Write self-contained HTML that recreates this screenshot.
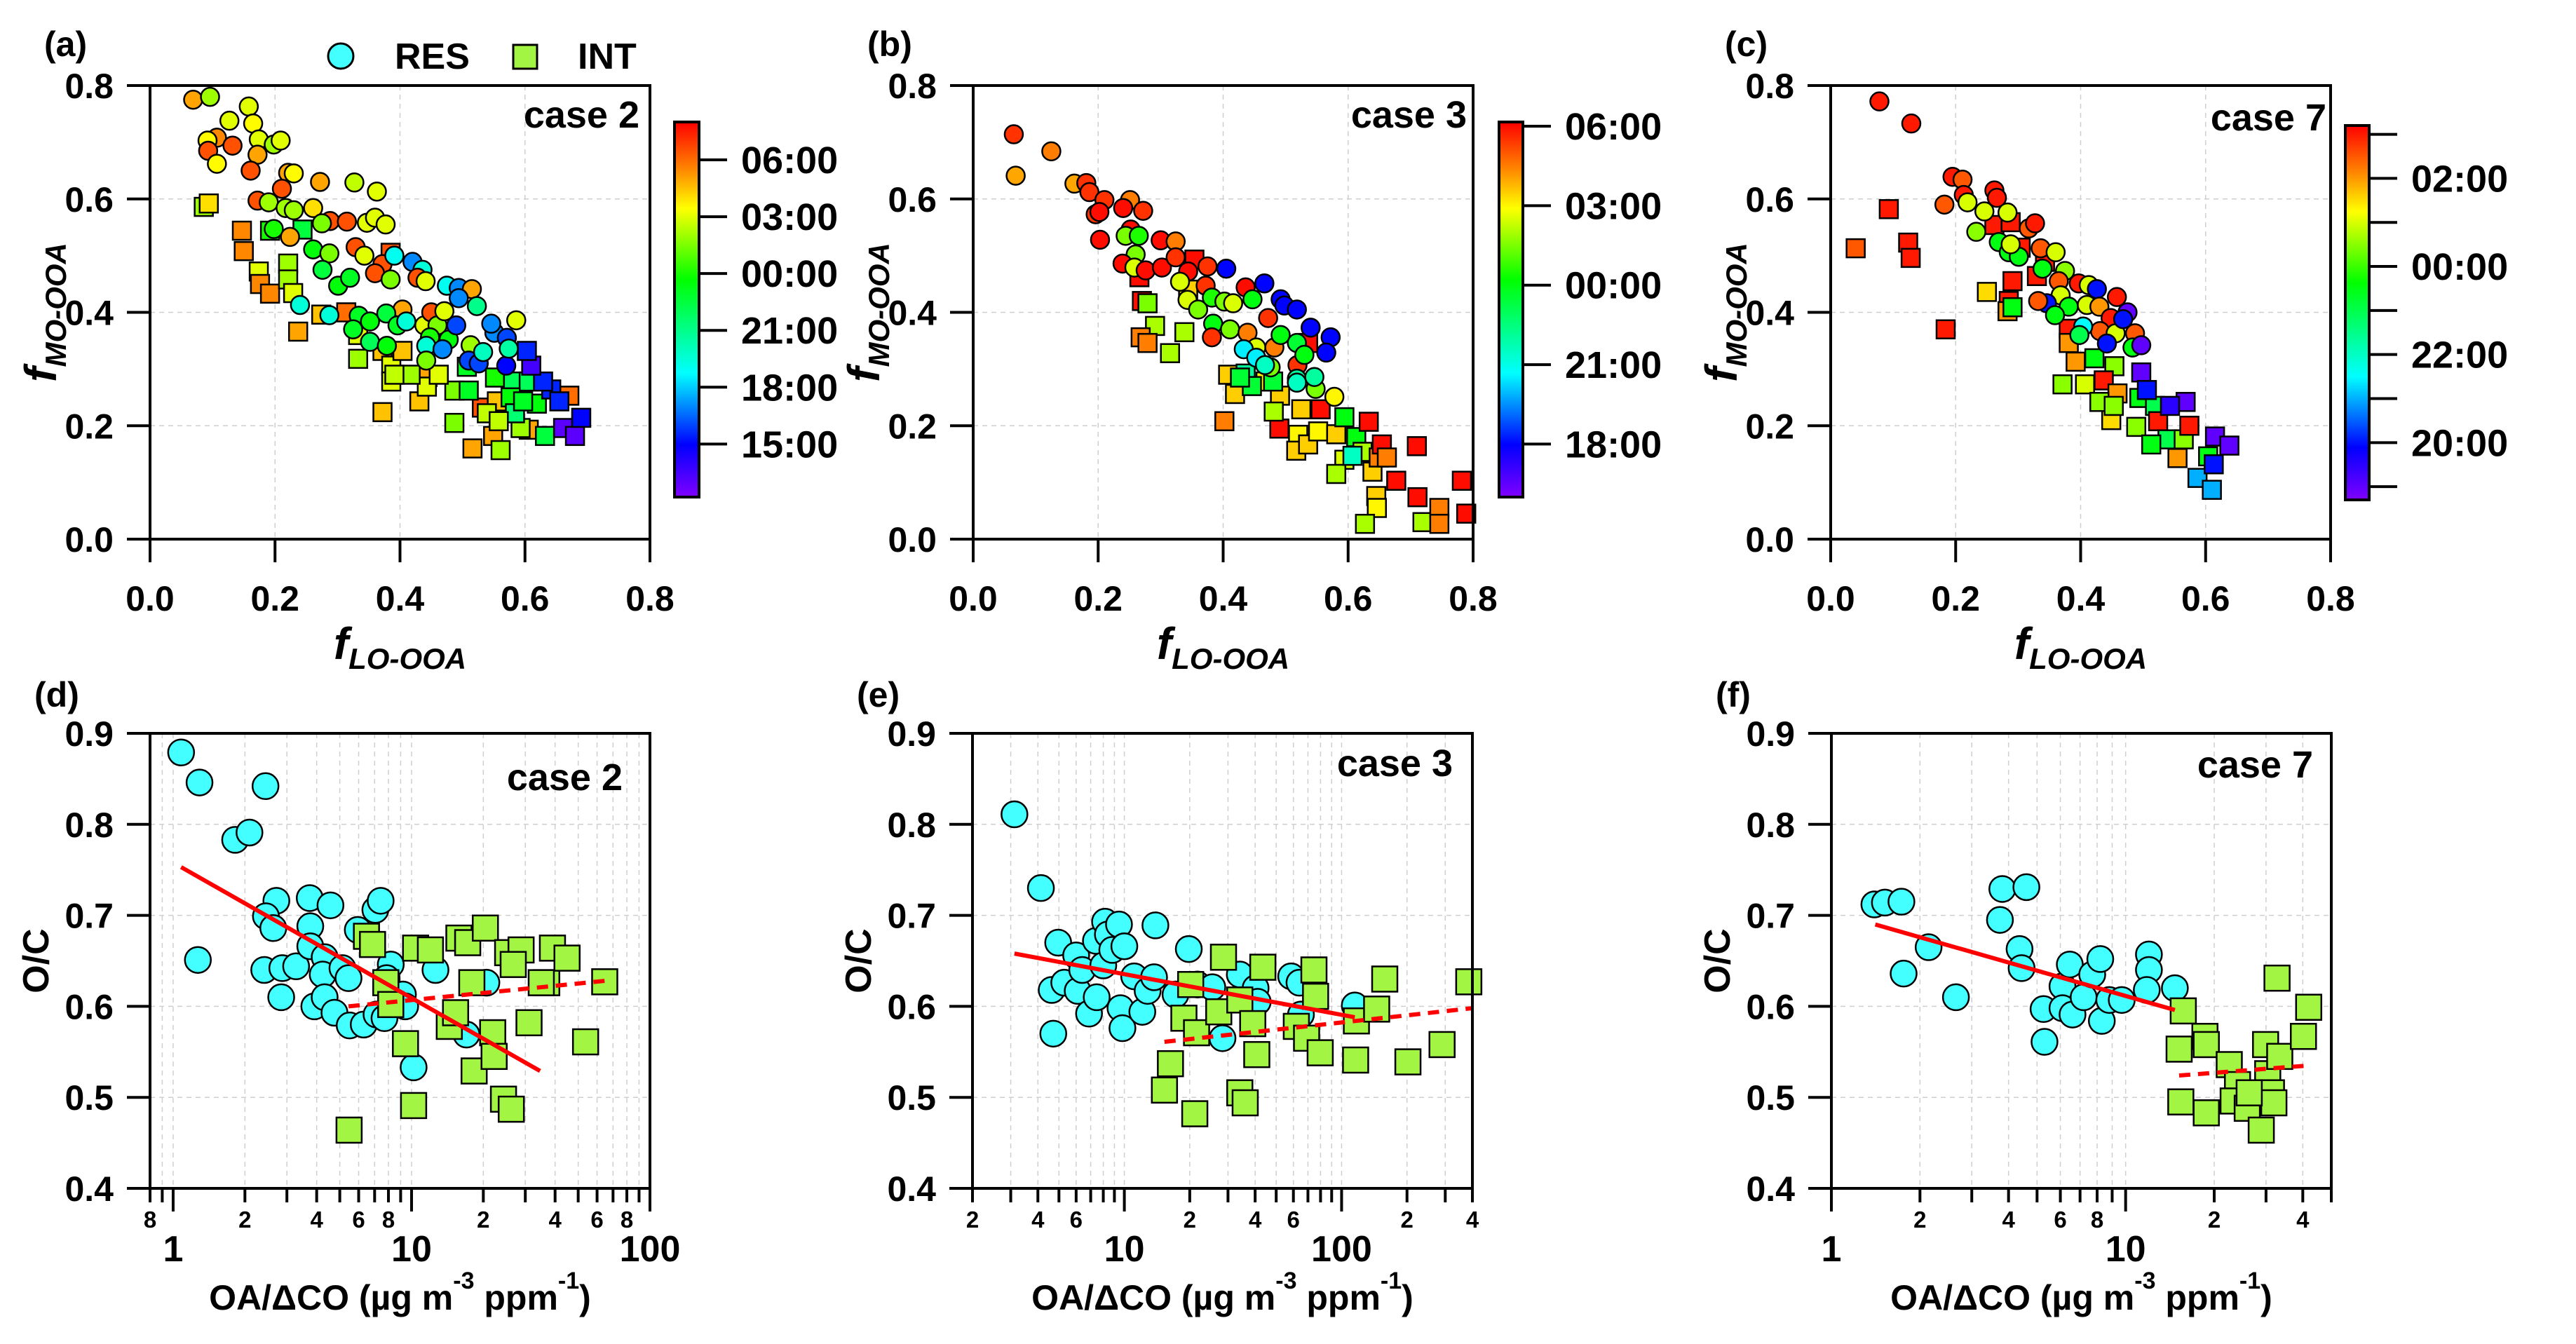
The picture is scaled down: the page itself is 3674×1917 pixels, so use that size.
<!DOCTYPE html>
<html><head><meta charset="utf-8">
<style>
html,body{margin:0;padding:0;background:#fff;}
svg{display:block;font-family:"Liberation Sans",Arial,sans-serif;font-weight:bold;}
</style></head>
<body>
<svg id="fig" xmlns="http://www.w3.org/2000/svg" width="3674" height="1917" viewBox="0 0 3674 1917">
<defs>
<linearGradient id="rainbow" x1="0" y1="1" x2="0" y2="0">
<stop offset="0" stop-color="#8000ff"/>
<stop offset="0.14" stop-color="#0000ff"/>
<stop offset="0.33" stop-color="#00ffff"/>
<stop offset="0.58" stop-color="#00ff00"/>
<stop offset="0.77" stop-color="#ffff00"/>
<stop offset="0.88" stop-color="#ff8000"/>
<stop offset="1" stop-color="#ff0000"/>
</linearGradient>
</defs>
</svg>
<script>
// ---------- DATA ----------
const aResX=[.069,.096,.158,.127,.165,.107,.092,.093,.132,.174,.198,.209,.172,.107,.161,.221,.23,.272,.327,.363,.172,.211,.19,.217,.23,.261,.288,.315,.347,.36,.377,.275,.198,.224,.261,.287,.276,.301,.32,.329,.343,.372,.36,.385,.391,.42,.436,.475,.494,.515,.523,.404,.428,.441,.334,.352,.325,.378,.396,.41,.439,.45,.46,.471,.448,.478,.352,.379,.442,.442,.468,.49,.513,.51,.526,.533,.551,.546,.571,.57,.574,.586,.24,.287,.494];
const aResY=[.775,.78,.763,.738,.733,.708,.703,.685,.694,.705,.696,.703,.678,.662,.65,.646,.645,.63,.629,.613,.597,.618,.594,.584,.58,.584,.561,.56,.558,.567,.555,.557,.547,.533,.511,.504,.475,.447,.461,.515,.5,.485,.469,.458,.5,.489,.475,.447,.443,.441,.411,.405,.461,.455,.394,.384,.37,.398,.377,.384,.377,.40,.377,.402,.356,.352,.348,.341,.341,.315,.335,.377,.342,.315,.31,.33,.364,.38,.355,.306,.336,.386,.413,.395,.425];
const aResT=[29,26,27,27,27.5,29.5,27.5,30.5,30.5,27,26,27,29,27.5,30.5,29,27.5,29,26.5,27,30.5,30.5,26,26,26,28,30.5,30.5,27,27,27,25.5,24,29,23.5,25.5,22.5,23.5,23,30.5,27,30.5,30.5,25.5,19,17,19.5,19,17,29,21,29,30.5,27,23,23.5,23,22.5,23,19.5,27,30.5,25.5,27,24,23.5,22,23.5,19.5,25.5,17,16,26,16,16,20,17,17,16,15,20.5,27,19.5,19.5,17];
const aIntX=[.086,.094,.147,.15,.174,.176,.192,.192,.221,.221,.244,.229,.237,.274,.314,.333,.333,.372,.386,.386,.404,.372,.431,.444,.443,.385,.487,.487,.516,.531,.549,.561,.555,.552,.581,.606,.606,.593,.632,.619,.671,.661,.68,.69,.642,.629,.61,.51,.507,.577,.539,.584,.462,.417,.597,.655,.558,.603,.391];
const aIntY=[.586,.592,.544,.508,.472,.45,.433,.544,.486,.458,.546,.434,.366,.396,.400,.36,.318,.332,.306,.278,.332,.224,.243,.286,.269,.505,.262,.205,.16,.232,.182,.157,.243,.285,.278,.278,.193,.196,.182,.239,.253,.196,.182,.214,.264,.278,.306,.262,.304,.250,.222,.222,.290,.290,.243,.243,.208,.332,.290];
const aIntT=[26,28,29.5,29.5,27,29.5,29.5,24,26,26,22.5,27,29,28.5,30,27,26,28.5,27,27,28.5,28.5,28.5,29,27,30.5,25.5,25.5,29,30.5,29,26,28.5,24,22,22,29,26,22.5,23.5,30,13,13,15,15.5,15.5,13.5,23,23,23.5,26.5,21.5,27,26,23,15.5,26.5,15.5,26.5];
const bResX=[.065,.125,.068,.162,.181,.186,.21,.251,.272,.24,.196,.202,.252,.203,.244,.265,.3,.324,.26,.239,.258,.276,.302,.324,.344,.375,.405,.331,.343,.36,.372,.382,.402,.416,.436,.447,.466,.492,.498,.518,.54,.572,.565,.384,.382,.411,.439,.453,.433,.453,.472,.482,.476,.492,.518,.519,.518,.548,.578,.53,.518,.467,.546];
const bResY=[.714,.684,.641,.627,.628,.612,.598,.598,.579,.584,.573,.577,.546,.528,.535,.535,.527,.525,.502,.486,.479,.474,.479,.497,.472,.481,.477,.454,.422,.405,.447,.426,.419,.416,.444,.423,.451,.423,.412,.405,.373,.356,.329,.38,.356,.37,.364,.338,.335,.32,.39,.338,.303,.36,.346,.307,.283,.265,.251,.325,.276,.307,.286];
const bResT=[29.5,28.5,28,28,29.5,29.5,29.5,28.5,29.5,30,29.5,30,30,30,25.5,24.5,30,28.5,25.5,30,26.5,30,30,29.5,30,29.5,18,26.5,26.5,25.5,29.5,24.5,25.5,26.5,30,24,18,18,18,18,18,18,18,24,29.5,25.5,28.5,26.5,20.5,20.5,29.5,28.5,25.5,24,23.5,29.5,22,25.5,27,24,21.5,21.5,22];
const bIntX=[.27,.279,.291,.268,.279,.315,.338,.408,.419,.402,.436,.468,.491,.48,.49,.481,.525,.556,.52,.517,.536,.552,.581,.594,.613,.633,.594,.623,.639,.649,.654,.662,.677,.645,.646,.627,.71,.711,.719,.746,.746,.782,.789,.581,.607,.446,.427,.344,.354,.266,.536];
const bIntY=[.42,.416,.376,.356,.346,.328,.365,.29,.256,.208,.292,.278,.253,.278,.195,.225,.229,.229,.184,.156,.167,.19,.185,.215,.18,.207,.14,.154,.119,.144,.167,.144,.103,.076,.055,.027,.164,.074,.03,.055,.027,.103,.045,.115,.147,.27,.285,.44,.493,.462,.346];
const bIntT=[30,25.5,26,28.5,28.5,26,26,27.5,27.5,28.5,22,27,27.5,23.5,30,26,27.5,30,27,27.5,27.5,27,27.5,24,24,30,26.5,26,27.5,28.5,30,28.5,30,27.5,27,26,30,30,26,28.5,28.5,30,30,26,21.5,23.5,23.5,27.5,30,30,30];
const cResX=[.078,.129,.195,.211,.213,.182,.219,.246,.262,.266,.283,.233,.269,.285,.301,.317,.327,.336,.36,.375,.365,.397,.413,.426,.458,.368,.346,.332,.381,.41,.43,.475,.448,.431,.456,.487,.483,.497,.404,.442,.468,.359,.398,.288,.339];
const cResY=[.772,.733,.639,.634,.607,.59,.594,.578,.615,.602,.576,.542,.524,.506,.498,.548,.557,.513,.506,.473,.455,.451,.448,.441,.427,.43,.416,.42,.41,.413,.41,.4,.39,.367,.363,.363,.338,.342,.375,.345,.388,.395,.36,.52,.477];
const cResT=[27,27,27,26.5,27,26.5,25,25,27,27,25,24.5,23.5,23.5,23.5,26.5,27,26.5,25,24.5,26.5,27,25,20,27,25,20,26.5,23.5,25,26,19,27,26.5,25,26.5,23.5,19,21.5,20,20,23.5,23,25,23.5];
const cIntX=[.04,.093,.124,.128,.184,.25,.285,.283,.291,.262,.288,.304,.291,.343,.33,.381,.381,.392,.422,.454,.371,.407,.437,.459,.449,.497,.494,.489,.519,.524,.539,.555,.565,.574,.587,.61,.604,.615,.638,.568,.543,.613,.506,.43,.453,.513];
const cIntY=[.513,.582,.523,.496,.37,.436,.42,.402,.409,.554,.559,.514,.455,.489,.464,.371,.346,.313,.319,.305,.273,.273,.28,.257,.21,.294,.249,.198,.235,.208,.176,.143,.176,.2,.108,.087,.146,.181,.165,.242,.235,.132,.263,.242,.235,.167];
const cIntT=[26.5,27,27,27,27,25.5,27,26,23.5,27,27,27,27,27,27,27,26,26,23.5,24.5,24.5,25,27,26,25.5,19,23.5,24.5,23,27,23,26,24.5,27,21,21,23.5,19,19,19,19.5,20,20,24.5,24.5,23.5];
const dResX=[1.08,1.29,2.44,1.82,2.09,1.27,2.71,2.45,2.63,3.74,4.57,3.76,2.41,2.87,3.28,2.84,3.76,4.32,4.24,5.13,5.44,3.91,4.32,4.75,5.5,6.3,5.95,7.05,7.42,8.18,7.86,7.13,7.7,9.2,9.4,10.2,12.6,17.0,20.6];
const dResY=[.879,.846,.842,.783,.791,.651,.716,.699,.686,.719,.711,.688,.640,.642,.644,.610,.666,.654,.635,.642,.631,.600,.610,.593,.579,.580,.684,.706,.716,.646,.631,.591,.587,.613,.600,.533,.640,.569,.626];
const dIntX=[5.47,6.47,6.86,7.8,8.18,9.43,10.2,10.4,12.0,14.4,15.8,17.2,17.9,15.3,20.4,18.3,21.9,22.2,24.3,26.2,25.3,28.8,31.1,36.9,39.0,44.9,35.0,53.7,64.6,26.7];
const dIntY=[.464,.677,.668,.626,.602,.559,.491,.664,.662,.578,.675,.670,.626,.593,.686,.529,.571,.545,.498,.487,.659,.662,.582,.626,.664,.653,.626,.561,.627,.646];
const dFitResX=[1.08,34.6], dFitResY=[.753,.529];
const dFitIntX=[5.44,64.6], dFitIntY=[.600,.628];
const eResX=[3.12,4.13,4.96,4.71,4.63,5.29,6.0,6.1,6.4,6.88,7.4,7.46,8.15,8.4,8.0,8.8,9.45,10,9.6,9.8,11.1,12.1,12.8,13.9,13.7,17.2,19.8,21.7,25.4,28.3,34,40.2,41.1,58.6,64,65,115];
const eResY=[.811,.730,.670,.570,.618,.626,.656,.617,.640,.592,.672,.610,.693,.679,.645,.662,.690,.666,.598,.576,.633,.594,.617,.689,.632,.613,.663,.624,.621,.565,.635,.620,.605,.633,.626,.591,.601];
const eIntX=[16.3,15.3,21.1,20.2,18.8,21.5,27.2,28.6,34,34,36,39,43.4,40.7,61.9,69,74.6,75.9,79.7,117,116,145,158,202,290,385];
const eIntY=[.537,.508,.482,.624,.587,.571,.594,.654,.607,.505,.494,.581,.643,.547,.578,.565,.640,.611,.549,.584,.541,.597,.630,.539,.558,.627];
const eFitResX=[3.12,115], eFitResY=[.658,.588];
const eFitIntX=[15.3,400], eFitIntY=[.561,.598];
const fResX=[1.40,1.52,1.73,2.14,1.76,2.65,3.81,4.6,3.74,4.36,4.43,5.26,5.3,6.1,6.46,6.1,6.6,7.2,7.7,8.2,8.3,8.8,9.7,12.0,12.0,11.8,14.7];
const fResY=[.712,.714,.715,.665,.636,.610,.729,.731,.695,.663,.642,.597,.561,.622,.646,.598,.591,.610,.635,.652,.584,.607,.607,.657,.640,.618,.620];
const fIntX=[15.7,15.2,18.6,18.8,15.4,18.8,22.5,24,23.2,25.9,28.9,29.9,30.4,31.3,32.7,33.4,31.9,40.2,41.9,26.3];
const fIntY=[.595,.553,.567,.558,.495,.483,.536,.514,.496,.488,.464,.558,.526,.505,.631,.545,.494,.567,.599,.505];
const fFitResX=[1.41,14.7], fFitResY=[.690,.596];
const fFitIntX=[15.2,41.9], fFitIntY=[.524,.535];
const linTicks=[0,0.2,0.4,0.6,0.8];
const linTickLabels=["0.0","0.2","0.4","0.6","0.8"];
const ocTicks=[0.4,0.5,0.6,0.7,0.8,0.9];
const ocTickLabels=["0.4","0.5","0.6","0.7","0.8","0.9"];
const cbTicksA=[15,18,21,24,27,30], cbLabelsA=["15:00","18:00","21:00","00:00","03:00","06:00"];
const cbTicksB=[18,21,24,27,30], cbLabelsB=["18:00","21:00","00:00","03:00","06:00"];
const cbTicksC=[19,20,21,22,23,24,25,26,27], cbLabelsC=["","20:00","","22:00","","00:00","","02:00",""];

// ---------- RENDER ----------
const NS="http://www.w3.org/2000/svg";
const svg=document.getElementById('fig');
function mk(tag,attrs,parent){const e=document.createElementNS(NS,tag);for(const k in attrs)e.setAttribute(k,attrs[k]);(parent||svg).appendChild(e);return e;}
function txt(s,attrs,parent){const e=mk('text',attrs,parent);e.textContent=s;return e;}
const stops=[[0,[128,0,255]],[0.14,[0,0,255]],[0.33,[0,255,255]],[0.58,[0,255,0]],[0.77,[255,255,0]],[0.88,[255,128,0]],[1,[255,0,0]]];
function cmap(f){f=Math.max(0,Math.min(1,f));for(let i=1;i<stops.length;i++){if(f<=stops[i][0]){const a=stops[i-1],b=stops[i];const u=(f-a[0])/(b[0]-a[0]);const c=a[1].map((v,j)=>Math.round(v+(b[1][j]-v)*u));return 'rgb('+c.join(',')+')';}}return 'rgb(255,0,0)';}
function linAxis(d0,d1,p0,p1){return v=>p0+(v-d0)/(d1-d0)*(p1-p0);}
function logAxis(d0,d1,p0,p1){const l0=Math.log10(d0),l1=Math.log10(d1);return v=>p0+(Math.log10(v)-l0)/(l1-l0)*(p1-p0);}

function frame(g,L,R,T,B){
  const f=mk('rect',{x:L,y:T,width:R-L,height:B-T,fill:'none',stroke:'#000','stroke-width':4},g);
  
  
}
function grid(g,x1,y1,x2,y2){
  const l=mk('line',{x1:x1,y1:y1,x2:x2,y2:y2,stroke:'#cfcfcf','stroke-width':1.5,'stroke-dasharray':'7 6'},g);
  
  
}
function tick(g,x1,y1,x2,y2){
  const l=mk('line',{x1:x1,y1:y1,x2:x2,y2:y2,stroke:'#000','stroke-width':4},g);
  
  
}
function circle(g,cx,cy,r,fill){
  const c=mk('circle',{cx:cx,cy:cy,r:r,fill:fill,stroke:'#000','stroke-width':2.5},g);
  
  
}
function square(g,cx,cy,s,fill){
  const q=mk('rect',{x:cx-s/2,y:cy-s/2,width:s,height:s,fill:fill,stroke:'#000','stroke-width':2.5},g);
  
  
}

function topPanel(cfg){
  const g=mk('g',{});
  
  
  const X=linAxis(0,0.8,cfg.L,cfg.R), Y=linAxis(0,0.8,cfg.B,cfg.T);
  for(const v of [0.2,0.4,0.6]){grid(g,X(v),cfg.T,X(v),cfg.B);grid(g,cfg.L,Y(v),cfg.R,Y(v));}
  const tmin=cfg.tmin,tmax=cfg.tmax;
  const col=t=>cmap((t-tmin)/(tmax-tmin));
  for(let i=0;i<cfg.ix.length;i++)square(g,X(cfg.ix[i]),Y(cfg.iy[i]),26,col(cfg.it[i]));
  for(let i=0;i<cfg.rx.length;i++)circle(g,X(cfg.rx[i]),Y(cfg.ry[i]),13,col(cfg.rt[i]));
  frame(g,cfg.L,cfg.R,cfg.T,cfg.B);
  linTicks.forEach((v,i)=>{
    tick(g,X(v),cfg.B,X(v),cfg.B+33);
    const tl=txt(linTickLabels[i],{x:X(v),y:cfg.B+102,'font-size':50,'text-anchor':'middle'},g);
    
    
    tick(g,cfg.L-33,Y(v),cfg.L,Y(v));
    const yl=txt(linTickLabels[i],{x:cfg.L-52,y:Y(v)+18,'font-size':50,'text-anchor':'end'},g);
    
    
  });
  const xt=mk('text',{x:(cfg.L+cfg.R)/2,y:940,'text-anchor':'middle','font-style':'italic'},g);
  
  
  const t1=mk('tspan',{'font-size':64},xt);t1.textContent='f';
  const t2=mk('tspan',{'font-size':42,dy:14},xt);t2.textContent='LO-OOA';
  const yt=mk('text',{x:0,y:0,'text-anchor':'middle','font-style':'italic',transform:'translate('+(cfg.L-134)+','+((cfg.T+cfg.B)/2)+') rotate(-90)'},g);
  
  
  const y1=mk('tspan',{'font-size':64},yt);y1.textContent='f';
  const y2=mk('tspan',{'font-size':42,dy:14},yt);y2.textContent='MO-OOA';
  const ct=txt(cfg.caseText,{x:cfg.caseX,y:cfg.caseY,'font-size':54,'text-anchor':'end'},g);
  
  
  const pl=txt(cfg.letter,{x:cfg.L-151,y:80,'font-size':50},g);
  
  
  const cb=mk('rect',{x:cfg.cbL,y:cfg.cbT,width:cfg.cbW,height:cfg.cbB-cfg.cbT,fill:'url(#rainbow)',stroke:'#000','stroke-width':4},g);
  
  
  const CY=linAxis(tmin,tmax,cfg.cbB,cfg.cbT);
  cfg.cbTicks.forEach((t,i)=>{
    tick(g,cfg.cbL+cfg.cbW,CY(t),cfg.cbL+cfg.cbW+40,CY(t));
    if(cfg.cbLabels[i]){
      const cl=txt(cfg.cbLabels[i],{x:cfg.cbL+cfg.cbW+60,y:CY(t)+19,'font-size':54},g);
      
      
    }
  });
}

function botPanel(cfg){
  const g=mk('g',{});
  
  
  const X=logAxis(cfg.d0,cfg.d1,cfg.L,cfg.R), Y=linAxis(0.4,0.9,cfg.B,cfg.T);
  const minor=[],major=[];
  for(let e=-1;e<=3;e++){for(let m=1;m<=9;m++){const v=m*Math.pow(10,e);if(v>=cfg.d0*0.999&&v<=cfg.d1*1.001){(m===1?major:minor).push(v);}}}
  for(const v of [0.5,0.6,0.7,0.8])grid(g,cfg.L,Y(v),cfg.R,Y(v));
  for(const v of minor.concat(major))if(X(v)>cfg.L+2&&X(v)<cfg.R-2)grid(g,X(v),cfg.T,X(v),cfg.B);
  for(let i=0;i<cfg.rx.length;i++)circle(g,X(cfg.rx[i]),Y(cfg.ry[i]),18.5,'#44ffff');
  for(let i=0;i<cfg.ix.length;i++)square(g,X(cfg.ix[i]),Y(cfg.iy[i]),36,'#a2f542');
  const f1=mk('line',{x1:X(cfg.frx[0]),y1:Y(cfg.fry[0]),x2:X(cfg.frx[1]),y2:Y(cfg.fry[1]),stroke:'#ff0000','stroke-width':6},g);
  
  
  const f2=mk('line',{x1:X(cfg.fix[0]),y1:Y(cfg.fiy[0]),x2:X(cfg.fix[1]),y2:Y(cfg.fiy[1]),stroke:'#ff0000','stroke-width':6,'stroke-dasharray':'16 11'},g);
  
  
  frame(g,cfg.L,cfg.R,cfg.T,cfg.B);
  ocTicks.forEach((v,i)=>{
    tick(g,cfg.L-33,Y(v),cfg.L,Y(v));
    const yl=txt(ocTickLabels[i],{x:cfg.L-52,y:Y(v)+18,'font-size':50,'text-anchor':'end'},g);
    
    
  });
  for(const v of major){tick(g,X(v),cfg.B,X(v),cfg.B+33);
    const dl=txt(String(v),{x:X(v),y:1799,'font-size':52,'text-anchor':'middle'},g);
    
    }
  for(const v of minor){tick(g,X(v),cfg.B,X(v),cfg.B+20);
    const m=Math.round(v/Math.pow(10,Math.floor(Math.log10(v)+1e-9)));
    if(cfg.minorLab.indexOf(m)>=0){
      const ml=txt(String(m),{x:X(v),y:1751,'font-size':33,'text-anchor':'middle'},g);
      
      }}
  const xt=mk('text',{x:(cfg.L+cfg.R)/2,y:1868,'text-anchor':'middle','font-size':50},g);
  
  
  const p1=mk('tspan',{},xt);p1.textContent='OA/ΔCO (µg m';
  const p2=mk('tspan',{'font-size':34,dy:-30},xt);p2.textContent='-3';
  const p3=mk('tspan',{dy:30},xt);p3.textContent='  ppm';
  const p4=mk('tspan',{'font-size':34,dy:-30},xt);p4.textContent='-1';
  const p5=mk('tspan',{dy:30},xt);p5.textContent=')';
  const yt=txt('O/C',{x:0,y:0,'font-size':52,'text-anchor':'middle',transform:'translate('+(cfg.L-145)+','+((cfg.T+cfg.B)/2)+') rotate(-90)'},g);
  
  
  const ct=txt(cfg.caseText,{x:cfg.caseX,y:cfg.caseY,'font-size':54,'text-anchor':'end'},g);
  
  
  const pl=txt(cfg.letter,{x:cfg.L-165,y:1008,'font-size':50},g);
  
  
}

topPanel({id:'a',letter:'(a)',L:214,R:927,T:122,B:769,rx:aResX,ry:aResY,rt:aResT,ix:aIntX,iy:aIntY,it:aIntT,tmin:12.2,tmax:32.0,cbL:962,cbW:35,cbT:174,cbB:709,cbTicks:cbTicksA,cbLabels:cbLabelsA,caseText:'case 2',caseX:912,caseY:182});
topPanel({id:'b',letter:'(b)',L:1388,R:2101,T:122,B:769,rx:bResX,ry:bResY,rt:bResT,ix:bIntX,iy:bIntY,it:bIntT,tmin:16.0,tmax:30.16,cbL:2138,cbW:34,cbT:174,cbB:709,cbTicks:cbTicksB,cbLabels:cbLabelsB,caseText:'case 3',caseX:2092,caseY:182});
topPanel({id:'c',letter:'(c)',L:2611,R:3324,T:122,B:769,rx:cResX,ry:cResY,rt:cResT,ix:cIntX,iy:cIntY,it:cIntT,tmin:18.7,tmax:27.2,cbL:3345,cbW:34,cbT:179,cbB:713,cbTicks:cbTicksC,cbLabels:cbLabelsC,caseText:'case 7',caseX:3318,caseY:186});

botPanel({id:'d',letter:'(d)',L:214,R:927,T:1046,B:1695,d0:0.8,d1:100,rx:dResX,ry:dResY,ix:dIntX,iy:dIntY,frx:dFitResX,fry:dFitResY,fix:dFitIntX,fiy:dFitIntY,minorLab:[2,4,6,8],caseText:'case 2',caseX:888,caseY:1127});
botPanel({id:'e',letter:'(e)',L:1387,R:2100,T:1046,B:1695,d0:2,d1:400,rx:eResX,ry:eResY,ix:eIntX,iy:eIntY,frx:eFitResX,fry:eFitResY,fix:eFitIntX,fiy:eFitIntY,minorLab:[2,4,6],caseText:'case 3',caseX:2072,caseY:1107});
botPanel({id:'f',letter:'(f)',L:2612,R:3325,T:1046,B:1695,d0:1,d1:50,rx:fResX,ry:fResY,ix:fIntX,iy:fIntY,frx:fFitResX,fry:fFitResY,fix:fFitIntX,fiy:fFitIntY,minorLab:[2,4,6,8],caseText:'case 7',caseX:3299,caseY:1109});

const lg=mk('g',{});


const lc=mk('circle',{cx:486,cy:80,r:18,fill:'#44ffff',stroke:'#000','stroke-width':3},lg);


const lt1=txt('RES',{x:563,y:98,'font-size':52},lg);


const ls=mk('rect',{x:732,y:64,width:34,height:34,fill:'#a2f542',stroke:'#000','stroke-width':3},lg);


const lt2=txt('INT',{x:824,y:98,'font-size':52},lg);


</script>
</body></html>
